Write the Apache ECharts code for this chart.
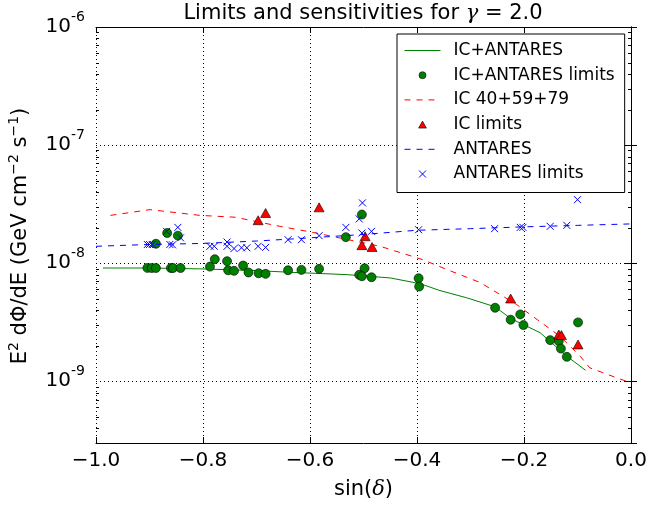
<!DOCTYPE html>
<html>
<head>
<meta charset="utf-8">
<script src="https://cdn.jsdelivr.net/npm/echarts@6/dist/echarts.min.js"></script>
<style>html,body{margin:0;padding:0;background:#fff}#c{width:651px;height:508px}</style>
</head>
<body>
<div id="c"></div>
<script>
// ---- data ----
const sensICAntX = [-0.987,-0.9,-0.806,-0.7,-0.637,-0.531,-0.45,-0.394,-0.357,-0.307,-0.254,-0.225,-0.17,-0.12,-0.085];
const sensICAntY = [9.1e-9,9.1e-9,8.95e-9,8.65e-9,8.37e-9,8.0e-9,7.5e-9,6.7e-9,5.86e-9,5.09e-9,4.27e-9,3.4e-9,2.58e-9,1.63e-9,1.24e-9];

const limICAntX = [-0.904,-0.896,-0.888,-0.888,-0.867,-0.847,-0.860,-0.856,-0.842,-0.787,-0.778,-0.755,-0.753,-0.742,-0.725,-0.715,-0.696,-0.683,-0.641,-0.616,-0.583,-0.533,-0.503,-0.498,-0.508,-0.503,-0.485,-0.397,-0.396,-0.254,-0.225,-0.207,-0.201,-0.151,-0.135,-0.131,-0.120,-0.099];
const limICAntY = [9.12e-9,9.1e-9,9.1e-9,1.46e-8,1.80e-8,1.71e-8,9.1e-9,9.1e-9,9.1e-9,9.35e-9,1.08e-8,1.04e-8,8.71e-9,8.61e-9,9.55e-9,8.34e-9,8.22e-9,8.12e-9,8.71e-9,8.77e-9,8.95e-9,1.66e-8,2.58e-8,9.06e-9,7.96e-9,7.75e-9,7.60e-9,7.45e-9,6.34e-9,4.19e-9,3.32e-9,3.68e-9,2.99e-9,2.23e-9,2.19e-9,1.89e-9,1.61e-9,3.15e-9];

const sensICX = [-0.973,-0.899,-0.806,-0.74,-0.656,-0.594,-0.469,-0.389,-0.344,-0.282,-0.214,-0.133,-0.095,-0.077,-0.027,0.0];
const sensICY = [2.54e-8,2.84e-8,2.54e-8,2.45e-8,2.05e-8,1.82e-8,1.39e-8,1.07e-8,8.83e-9,6.86e-9,4.47e-9,2.41e-9,1.63e-9,1.30e-9,1.07e-9,9.7e-10];

const limICX = [-0.697,-0.683,-0.583,-0.497,-0.503,-0.484,-0.225,-0.135,-0.130,-0.099];
const limICY = [2.31e-8,2.66e-8,2.97e-8,1.69e-8,1.42e-8,1.37e-8,5.02e-9,2.49e-9,2.46e-9,2.05e-9];

const sensAntX = [-1.0,-0.9,-0.8,-0.7,-0.637,-0.5,-0.4,-0.3,-0.2,-0.1,0.0];
const sensAntY = [1.39e-8,1.44e-8,1.47e-8,1.54e-8,1.60e-8,1.75e-8,1.90e-8,1.96e-8,2.03e-8,2.09e-8,2.15e-8];

const limAntX = [-0.904,-0.900,-0.895,-0.868,-0.847,-0.842,-0.862,-0.857,-0.787,-0.779,-0.755,-0.755,-0.742,-0.728,-0.718,-0.697,-0.683,-0.641,-0.616,-0.583,-0.533,-0.502,-0.508,-0.503,-0.485,-0.397,-0.255,-0.207,-0.202,-0.151,-0.120,-0.100];
const limAntY = [1.44e-8,1.44e-8,1.44e-8,1.86e-8,2.01e-8,1.64e-8,1.44e-8,1.43e-8,1.39e-8,1.39e-8,1.51e-8,1.39e-8,1.33e-8,1.35e-8,1.35e-8,1.39e-8,1.36e-8,1.58e-8,1.58e-8,1.71e-8,2.01e-8,3.24e-8,2.37e-8,1.80e-8,1.86e-8,1.92e-8,1.96e-8,2.01e-8,2.01e-8,2.05e-8,2.09e-8,3.45e-8];

const xTicks = [-1.0,-0.8,-0.6,-0.4,-0.2,0.0];
const yMin = 3e-10, yMax = 1e-6;
const names = ['IC+ANTARES','IC+ANTARES limits','IC 40+59+79','IC limits','ANTARES','ANTARES limits'];
// ---------------------------------------

const zip = (xs, ys) => xs.map((x, i) => [x, ys[i]]);
const FONT = 'DejaVu Sans';
const minorTicks = [];
for (let e = -10; e <= -7; e++) for (let m = 2; m <= 9; m++) { const v = m * Math.pow(10, e); if (v > yMin && v < yMax) minorTicks.push([-1, v]); }

const chart = echarts.init(document.getElementById('c'), null, {renderer: 'canvas'});
const xPath = 'path://M0,0L10,10M10,0L0,10';
const circlePath = 'path://M0,5A5,5 0 1,0 10,5A5,5 0 1,0 0,5Z';
const triPath = 'path://M5,0L10,9L0,9Z';
const hidden = {opacity: 0, color: 'rgba(0,0,0,0)', borderWidth: 0};

const option = {
  animation: false,
  backgroundColor: '#fff',
  grid: {left: 96, right: 20, top: 27, bottom: 65, containLabel: false},
  graphic: [{
    type: 'text', x: 363, y: 14,
    style: {
      text: '{a|Limits and sensitivities for }{g|γ}{a| = 2.0}',
      align: 'center', verticalAlign: 'middle',
      rich: {a: {fontFamily: FONT, fontSize: 21, fill: '#000'}, g: {fontFamily: 'DejaVu Serif', fontStyle: 'italic', fontSize: 21, fill: '#000'}}
    }
  }, {
    type: 'text', x: 21, y: 236, rotation: Math.PI / 2,
    style: {
      text: '{a|E}{s|2}{a| d\u03A6/dE (GeV cm}{s|\u22122}{a| s}{s|\u22121}{a|)}',
      align: 'center', verticalAlign: 'middle',
      rich: {
        a: {fontFamily: FONT, fontSize: 21, fill: '#000', lineHeight: 28, verticalAlign: 'middle'},
        s: {fontFamily: FONT, fontSize: 14, fill: '#000', lineHeight: 14, verticalAlign: 'top'}
      }
    }
  }],
  legend: {
    left: 397, top: 34, orient: 'vertical',
    padding: [8, 10, 10, 7], itemGap: 7.7,
    itemWidth: 36, itemHeight: 7,
    borderColor: '#000', borderWidth: 1, backgroundColor: '#fff',
    textStyle: {fontFamily: FONT, fontSize: 17, color: '#000', padding: [0, 0, 0, 8]},
    symbolKeepAspect: true,
    data: [
      {name: names[0], itemStyle: hidden, lineStyle: {width: 1}},
      {name: names[1], icon: circlePath, itemStyle: {color: '#008000', borderColor: '#000', borderWidth: 0.6}},
      {name: names[2], itemStyle: hidden, lineStyle: {width: 1}},
      {name: names[3], icon: triPath, itemStyle: {color: '#ff0000', borderColor: '#000', borderWidth: 0.6}},
      {name: names[4], itemStyle: hidden, lineStyle: {width: 1}},
      {name: names[5], icon: xPath, itemStyle: {color: 'rgba(0,0,0,0)', borderColor: '#0000ff', borderWidth: 1}}
    ],
    z: 20
  },
  xAxis: [{
    type: 'value', min: -1, max: 0, interval: 0.2, position: 'bottom',
    axisLine: {show: true, lineStyle: {color: '#000', width: 1}},
    axisTick: {show: true, inside: true, length: 6, lineStyle: {color: '#000'}},
    axisLabel: {fontFamily: FONT, fontSize: 20, color: '#000', margin: 8,
      formatter: v => (v < -1e-9 ? '\u2212' : '') + Math.abs(v).toFixed(1)},
    splitLine: {show: true, lineStyle: {color: '#000', type: [1, 3], width: 1}},
    name: '{a|sin(}{d|δ}{a|)}', nameLocation: 'middle', nameGap: 36,
    nameTextStyle: {rich: {a: {fontFamily: FONT, fontSize: 21, color: '#000'}, d: {fontFamily: 'DejaVu Serif', fontStyle: 'italic', fontSize: 21, color: '#000'}}}
  }, {
    type: 'value', min: -1, max: 0, interval: 0.2, position: 'top',
    axisLine: {show: true, lineStyle: {color: '#000', width: 1}},
    axisTick: {show: true, inside: true, length: 6, lineStyle: {color: '#000'}},
    axisLabel: {show: false}, splitLine: {show: false}
  }],
  yAxis: [{
    type: 'log', logBase: 10, min: yMin, max: yMax, position: 'left',
    axisLine: {show: true, lineStyle: {color: '#000', width: 1}},
    axisTick: {show: true, inside: true, length: 6, lineStyle: {color: '#000'}},
    axisLabel: {margin: 11,
      formatter: v => {
        const l = Math.log10(v); const r = Math.round(l);
        if (Math.abs(l - r) > 1e-6) return '';
        return '{b|10}{s|' + r + '}';
      },
      rich: {
        b: {fontFamily: FONT, fontSize: 20, color: '#000', lineHeight: 34, verticalAlign: 'middle'},
        s: {fontFamily: FONT, fontSize: 14, color: '#000', lineHeight: 14, verticalAlign: 'top'}
      }
    },
    splitLine: {show: true, lineStyle: {color: '#000', type: [1, 3], width: 1}}
  }, {
    type: 'log', logBase: 10, min: yMin, max: yMax, position: 'right',
    axisLine: {show: true, lineStyle: {color: '#000', width: 1}},
    axisTick: {show: true, inside: true, length: 6, lineStyle: {color: '#000'}},
    axisLabel: {show: false}, splitLine: {show: false}
  }],
  series: [
    {name: names[0], type: 'line', data: zip(sensICAntX, sensICAntY), showSymbol: false, symbol: 'none', smooth: false,
      lineStyle: {color: '#008000', width: 1}, itemStyle: {color: '#008000'}, z: 2},
    {name: names[1], type: 'scatter', data: zip(limICAntX, limICAntY), symbol: 'circle', symbolSize: 9,
      itemStyle: {color: '#008000', borderColor: '#000', borderWidth: 0.6, opacity: 1}, z: 3},
    {name: names[2], type: 'line', data: zip(sensICX, sensICY), showSymbol: false, symbol: 'none',
      lineStyle: {color: '#ff0000', width: 1, type: [6, 6]}, itemStyle: {color: '#ff0000'}, z: 4},
    {name: names[3], type: 'scatter', data: zip(limICX, limICY), symbol: 'triangle', symbolSize: [10, 9],
      itemStyle: {color: '#ff0000', borderColor: '#000', borderWidth: 0.6, opacity: 1}, z: 5},
    {name: names[4], type: 'line', data: zip(sensAntX, sensAntY), showSymbol: false, symbol: 'none',
      lineStyle: {color: '#0000ff', width: 1, type: [6, 6]}, itemStyle: {color: '#0000ff'}, z: 6},
    {name: names[5], type: 'scatter', data: zip(limAntX, limAntY), symbol: xPath, symbolSize: 7,
      itemStyle: {color: 'rgba(0,0,0,0)', borderColor: '#0000ff', borderWidth: 1, opacity: 1}, z: 7},
    {name: 'minor', type: 'custom', data: minorTicks, encode: {x: 0, y: 1}, silent: true, z: 8,
      renderItem: (params, api) => {
        const v = api.value(1);
        const pL = api.coord([-1, v]); const pR = api.coord([0, v]);
        const y = Math.round(pL[1]) + 0.5;
        return {type: 'group', children: [
          {type: 'line', shape: {x1: pL[0], y1: y, x2: pL[0] + 3, y2: y}, style: {stroke: '#000', lineWidth: 1}},
          {type: 'line', shape: {x1: pR[0], y1: y, x2: pR[0] - 3, y2: y}, style: {stroke: '#000', lineWidth: 1}}
        ]};
      }}
  ]
};
chart.setOption(option);
</script>
</body>
</html>
